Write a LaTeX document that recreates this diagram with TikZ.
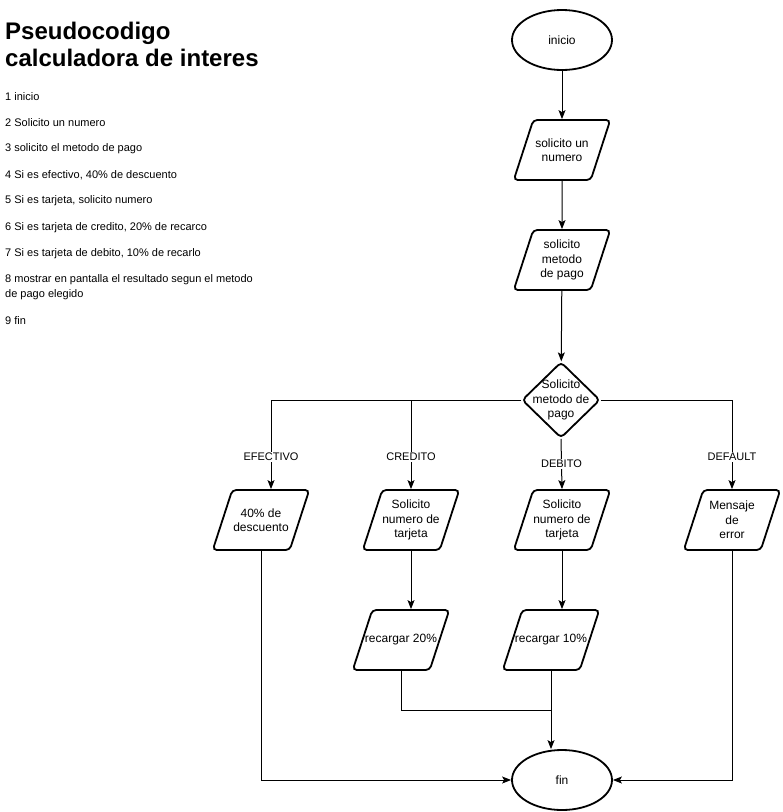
\documentclass[tikz,border=0pt]{standalone}
\usepackage{fontspec}
\setmainfont{Liberation Sans}
\usetikzlibrary{shapes.geometric, arrows.meta, positioning}

% texto de las cajas de datos, con alto fijo
\newcommand{\caja}[1]{\parbox[c][44pt][c]{77pt}{\centering #1}}

\tikzset{
  forma/.style={draw, line width=1.8pt, rounded corners=4pt, align=center,
    font=\fontsize{12}{14.5}\selectfont, inner sep=0pt},
  terminal/.style={forma, ellipse, minimum width=100pt, minimum height=60pt},
  datos/.style={forma, trapezium, trapezium left angle=72, trapezium right angle=108,
    inner xsep=-9.75pt, inner ysep=8pt},
  decision/.style={forma, diamond, inner sep=-12pt, minimum width=78pt, minimum height=76pt},
  flecha/.style={-{Stealth[length=9pt,width=7pt,inset=2pt]}, line width=1pt},
  linea/.style={line width=1pt},
  etiqueta/.style={fill=white, font=\fontsize{11}{13}\selectfont, inner sep=1.5pt},
  paso/.style={anchor=west, align=left, font=\fontsize{11}{15}\selectfont, inner sep=0pt},
  titulo/.style={anchor=west, align=left, font=\bfseries\fontsize{24}{27}\selectfont, inner sep=0pt}
}

\begin{document}
\begin{tikzpicture}[x=1pt, y=-1pt]
    \useasboundingbox (0,0) rectangle (783,812);

    % pseudocodigo
    \node[titulo] (titulo) at (5,44.5) {Pseudocodigo\\calculadora de interes};
    \node[paso] (p1) at (5,97) {1 inicio};
    \node[paso] (p2) at (5,123) {2 Solicito un numero};
    \node[paso] (p3) at (5,149) {3 solicito el metodo de pago};
    \node[paso] (p4) at (5,175) {4 Si es efectivo, 40\% de descuento};
    \node[paso] (p5) at (5,201) {5 Si es tarjeta, solicito numero};
    \node[paso] (p6) at (5,228) {6 Si es tarjeta de credito, 20\% de recarco};
    \node[paso] (p7) at (5,254) {7 Si es tarjeta de debito, 10\% de recarlo};
    \node[paso] (p8) at (5,287.5) {8 mostrar en pantalla el resultado segun el metodo\\de pago elegido};
    \node[paso] (p9) at (5,321) {9 fin};

    % diagrama de flujo
    \node[terminal] (inicio) at (562,40) {inicio};
    \node[datos] (sol) at (562,150) {\caja{solicito un\\numero}};
    \node[datos] (met) at (562,260) {\caja{solicito\\metodo\\de pago}};
    \node[decision] (dec) at (561,400) {Solicito\\metodo de\\pago};

    \node[datos] (efec) at (261,520) {\caja{40\% de\\descuento}};
    \node[datos] (cred) at (411,520) {\caja{Solicito\\numero de\\tarjeta}};
    \node[datos] (deb) at (562,520) {\caja{Solicito\\numero de\\tarjeta}};
    \node[datos] (def) at (732,520) {\caja{Mensaje\\de\\error}};

    \node[datos] (rec20) at (401,640) {\caja{recargar 20\%}};
    \node[datos] (rec10) at (551,640) {\caja{recargar 10\%}};

    \node[terminal] (fin) at (562,780) {fin};
    \coordinate (union) at (rec10.south |- 0,710);

    % conectores
    \draw[flecha] (inicio) -- (sol);
    \draw[flecha] (sol) -- (met);
    \draw[flecha] (met) -- (dec);
    \draw[flecha] (dec.west) -| ([xshift=10pt]efec.north) node[etiqueta, pos=0.82] {EFECTIVO};
    \draw[flecha] (dec.west) -| (cred.north) node[etiqueta, pos=0.82] {CREDITO};
    \draw[flecha] (dec.south) -- (deb.north) node[etiqueta, midway] {DEBITO};
    \draw[flecha] (dec.east) -| (def.north) node[etiqueta, pos=0.82] {DEFAULT};

    \draw[flecha] (cred.south) -- (cred.south |- rec20.north);
    \draw[flecha] (deb.south) -- (deb.south |- rec10.north);
    \draw[linea] (rec20.south) |- (union);
    \draw[flecha] (rec10.south) -- (rec10.south |- fin.north);
    \draw[flecha] (efec.south) |- (fin.west);
    \draw[flecha] (def.south) |- (fin.east);
\end{tikzpicture}
\end{document}
